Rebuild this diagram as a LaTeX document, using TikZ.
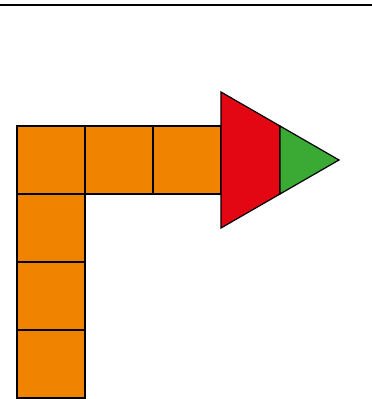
\documentclass[tikz,border=0pt]{standalone}
\usepackage{xcolor}
\usepackage{tikz}
\usetikzlibrary{positioning}
\definecolor{tileorange}{HTML}{F08300}
\definecolor{headred}{HTML}{E30613}
\definecolor{tipgreen}{HTML}{3AAA35}

\begin{document}
\begin{tikzpicture}[
    x=1pt, y=1pt,
    node distance=0pt,
    tile/.style={rectangle, draw=black, fill=tileorange, line width=1.2pt, minimum size=68pt, inner sep=0pt, outer sep=0pt},
    piece/.style={draw=black, line width=1.2pt, line join=miter}
]
\useasboundingbox (0,0) rectangle (372,399);
\draw[line width=2.5pt] (0,394) -- (372,394);

\node[tile] (r1) at (51,239) {};
\node[tile, right=of r1] (r2) {};
\node[tile, right=of r2] (r3) {};
\node[tile, below=of r1] (c1) {};
\node[tile, below=of c1] (c2) {};
\node[tile, below=of c2] (c3) {};

\coordinate (top) at (221,307);
\coordinate (bot) at (221,171);
\coordinate (tip) at (339,239);
\coordinate (cuttop) at (280,273);
\coordinate (cutbot) at (280,205);

\filldraw[piece, fill=headred] (top) -- (cuttop) -- (cutbot) -- (bot) -- cycle;
\filldraw[piece, fill=tipgreen] (cuttop) -- (tip) -- (cutbot) -- cycle;
\end{tikzpicture}
\end{document}
